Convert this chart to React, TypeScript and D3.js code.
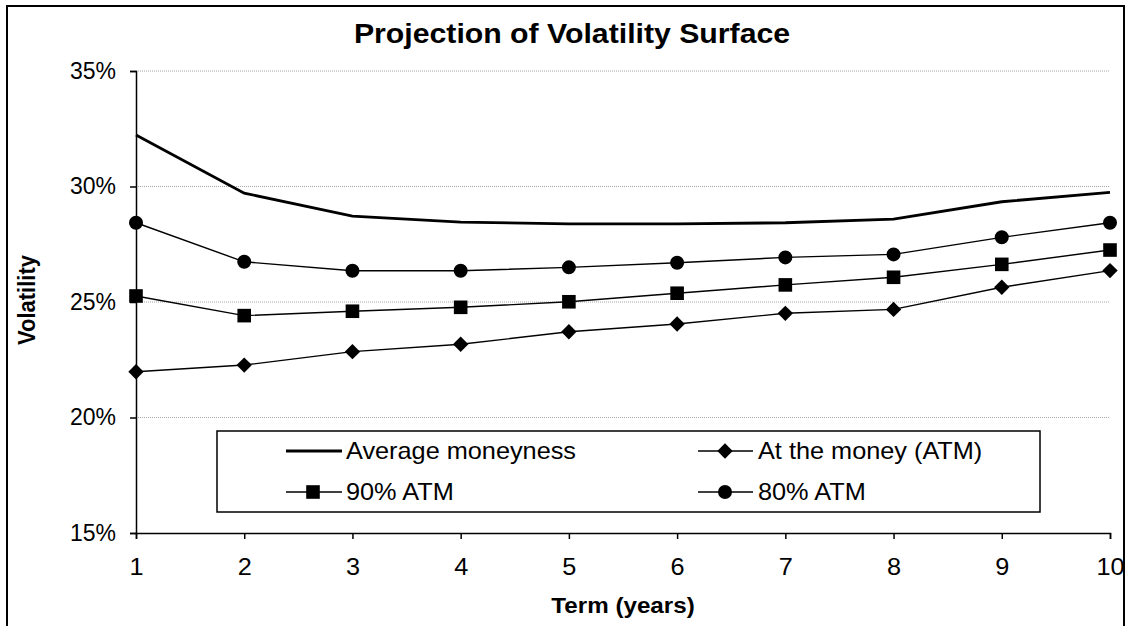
import React, { useEffect, useRef } from 'react';
import { axisBottom, axisLeft, line, scaleLinear, select, symbol, symbolCircle, symbolSquare } from 'd3';

const terms = [1, 2, 3, 4, 5, 6, 7, 8, 9, 10];
const averageMoneyness = [32.23, 29.71, 28.72, 28.46, 28.38, 28.38, 28.43, 28.59, 29.34, 29.75];
const atTheMoney = [21.98, 22.27, 22.85, 23.17, 23.71, 24.05, 24.51, 24.68, 25.64, 26.36];
const atm90 = [25.26, 24.41, 24.6, 24.77, 25.01, 25.38, 25.74, 26.07, 26.63, 27.25];
const atm80 = [28.43, 26.74, 26.35, 26.35, 26.5, 26.7, 26.93, 27.06, 27.8, 28.43];
const yTicks = [15, 20, 25, 30, 35];

const FONT = '"Liberation Sans", Arial, sans-serif';
const SX = 1.1; // text in the picture is a bit wider than tall

const margin = { top: 71, left: 136, right: 1110, bottom: 533 };

export default function App() {
  const xAxisRef = useRef<SVGGElement>(null);
  const yAxisRef = useRef<SVGGElement>(null);

  const x = scaleLinear().domain([1, 10]).range([margin.left, margin.right]);
  const y = scaleLinear().domain([15, 35]).range([margin.bottom, margin.top]);

  useEffect(() => {
    const xa = select(xAxisRef.current);
    xa.call(axisBottom(x).tickValues(terms).tickSize(6).tickPadding(20).tickFormat((d: any) => String(d)));
    xa.select('.domain').attr('stroke', '#000').attr('stroke-width', 1.5);
    xa.selectAll('.tick line').attr('stroke', '#000').attr('stroke-width', 1.5);
    xa.selectAll('.tick text')
      .attr('font-family', FONT).attr('font-size', 23).attr('fill', '#000')
      .attr('transform', `scale(${SX},1)`);

    const ya = select(yAxisRef.current);
    ya.call(axisLeft(y).tickValues(yTicks).tickSize(6).tickPadding(14).tickFormat((d: any) => d + '%'));
    ya.select('.domain').attr('stroke', '#000').attr('stroke-width', 1.5);
    ya.selectAll('.tick line').attr('stroke', '#000').attr('stroke-width', 1.5);
    ya.selectAll('.tick text')
      .attr('font-family', FONT).attr('font-size', 23).attr('fill', '#000');
  }, []);

  const path = line<number>().x((_, i) => x(terms[i])).y((d) => y(d));
  const circle = symbol(symbolCircle, 154)();
  const square = symbol(symbolSquare, 185)();
  const diamond = symbol(symbolSquare, 118)();

  const series = [
    { name: 'ATM', values: atTheMoney, marker: diamond, rot: 45 },
    { name: '90', values: atm90, marker: square, rot: 0 },
    { name: '80', values: atm80, marker: circle, rot: 0 },
  ];

  const legendRows = [451, 492];

  const Stretch = ({ x0, y0, anchor, size, bold, children }: any) => (
    <text
      transform={`translate(${x0},${y0}) scale(${SX},1)`}
      textAnchor={anchor}
      fontFamily={FONT}
      fontSize={size}
      fontWeight={bold ? 'bold' : 'normal'}
      fill="#000"
    >
      {children}
    </text>
  );

  return (
    <svg width={1129} height={626} style={{ position: 'absolute', left: 0, top: 0, background: '#fff' }}>
      <rect x={0} y={0} width={1129} height={626} fill="#fff" />
      <rect x={7} y={6} width={1117} height={640} fill="none" stroke="#000" strokeWidth={2} />

      <Stretch x0={572} y0={43} anchor="middle" size={27.5} bold>Projection of Volatility Surface</Stretch>

      {yTicks.filter((t) => t !== 15).map((t) => (
        <line key={t} x1={margin.left} x2={margin.right} y1={y(t)} y2={y(t)}
          stroke="#a6a6a6" strokeWidth={1} strokeDasharray="1,1" />
      ))}

      <g ref={xAxisRef} transform={`translate(0,${margin.bottom})`} />
      <g ref={yAxisRef} transform={`translate(${margin.left},0)`} />

      <path d={path(averageMoneyness) || ''} fill="none" stroke="#000" strokeWidth={2.8} />
      {series.map((s) => (
        <g key={s.name}>
          <path d={path(s.values) || ''} fill="none" stroke="#000" strokeWidth={1.4} />
          {s.values.map((v, i) => (
            <path key={i} d={s.marker || ''} fill="#000"
              transform={`translate(${x(terms[i])},${y(v)}) rotate(${s.rot})`} />
          ))}
        </g>
      ))}

      {/* legend */}
      <rect x={217} y={431} width={823} height={81} fill="#fff" stroke="#000" strokeWidth={1.5} />
      <line x1={286} x2={342} y1={legendRows[0]} y2={legendRows[0]} stroke="#000" strokeWidth={2.8} />
      <Stretch x0={346} y0={legendRows[0] + 8} anchor="start" size={23}>Average moneyness</Stretch>

      <line x1={698} x2={753} y1={legendRows[0]} y2={legendRows[0]} stroke="#000" strokeWidth={1.4} />
      <path d={diamond || ''} fill="#000" transform={`translate(725,${legendRows[0]}) rotate(45)`} />
      <Stretch x0={758} y0={legendRows[0] + 8} anchor="start" size={23}>At the money (ATM)</Stretch>

      <line x1={286} x2={342} y1={legendRows[1]} y2={legendRows[1]} stroke="#000" strokeWidth={1.4} />
      <path d={square || ''} fill="#000" transform={`translate(313,${legendRows[1]})`} />
      <Stretch x0={346} y0={legendRows[1] + 8} anchor="start" size={23}>90% ATM</Stretch>

      <line x1={698} x2={753} y1={legendRows[1]} y2={legendRows[1]} stroke="#000" strokeWidth={1.4} />
      <path d={circle || ''} fill="#000" transform={`translate(725,${legendRows[1]})`} />
      <Stretch x0={758} y0={legendRows[1] + 8} anchor="start" size={23}>80% ATM</Stretch>

      <Stretch x0={623} y0={613} anchor="middle" size={22} bold>Term (years)</Stretch>
      <text transform={`translate(35,300) rotate(-90) scale(1,${SX})`} textAnchor="middle"
        fontFamily={FONT} fontSize={22} fontWeight="bold" fill="#000">Volatility</text>
    </svg>
  );
}
